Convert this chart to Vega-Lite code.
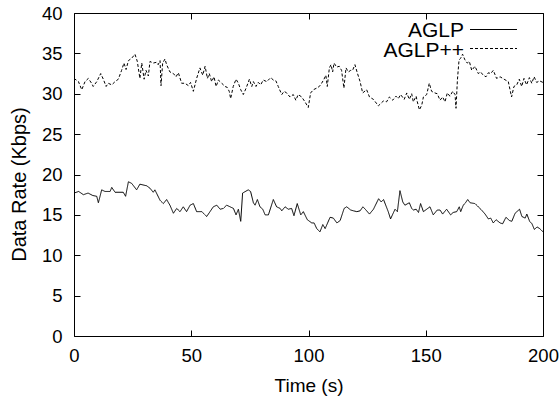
{
"$schema": "https://vega.github.io/schema/vega-lite/v6.json",
"width": 469, "height": 323,
"autosize": {"type": "none"},
"padding": {"left": 74, "top": 13, "right": 16, "bottom": 61},
"background": "white",
"config": {
  "font": "Liberation Sans",
  "view": {"stroke": "black", "strokeWidth": 1},
  "axis": {"domain": false, "grid": false, "ticks": true, "tickColor": "black", "tickSize": 6, "tickWidth": 1, "zindex": 1, "offset": -6,
           "labelFlush": false, "labelOverlap": false,
           "labelColor": "black", "labelFont": "Liberation Sans", "labelFontSize": 18.5,
           "titleColor": "black", "titleFont": "Liberation Sans", "titleFontSize": 19, "titleFontWeight": "normal"}
},
"data": {"values": [
{"t":0,"v":17.7,"s":"AGLP"},{"t":2,"v":17.9,"s":"AGLP"},{"t":4,"v":17.5,"s":"AGLP"},{"t":6,"v":17.7,"s":"AGLP"},{"t":8,"v":17.4,"s":"AGLP"},{"t":9.7,"v":17.3,"s":"AGLP"},{"t":10.4,"v":16.5,"s":"AGLP"},{"t":11.8,"v":18.1,"s":"AGLP"},{"t":13.2,"v":17.9,"s":"AGLP"},{"t":15.4,"v":17.9,"s":"AGLP"},{"t":16.1,"v":18.4,"s":"AGLP"},{"t":17.5,"v":17.8,"s":"AGLP"},{"t":21,"v":17.8,"s":"AGLP"},{"t":22,"v":17.3,"s":"AGLP"},{"t":23.2,"v":19.1,"s":"AGLP"},{"t":24.6,"v":18.9,"s":"AGLP"},{"t":26.7,"v":18.1,"s":"AGLP"},{"t":28.1,"v":18.8,"s":"AGLP"},{"t":31,"v":18.6,"s":"AGLP"},{"t":32.4,"v":18.3,"s":"AGLP"},{"t":33.8,"v":17.8,"s":"AGLP"},{"t":34.5,"v":18.1,"s":"AGLP"},{"t":36.7,"v":16.8,"s":"AGLP"},{"t":38.1,"v":16.4,"s":"AGLP"},{"t":39.5,"v":16.9,"s":"AGLP"},{"t":40.9,"v":16.2,"s":"AGLP"},{"t":42.4,"v":15.2,"s":"AGLP"},{"t":43.8,"v":15.8,"s":"AGLP"},{"t":45.2,"v":15.4,"s":"AGLP"},{"t":46.6,"v":16.0,"s":"AGLP"},{"t":48,"v":15.4,"s":"AGLP"},{"t":49.5,"v":16.2,"s":"AGLP"},{"t":50.9,"v":16.4,"s":"AGLP"},{"t":52.3,"v":15.4,"s":"AGLP"},{"t":54.5,"v":15.4,"s":"AGLP"},{"t":56.6,"v":14.8,"s":"AGLP"},{"t":59.4,"v":16.0,"s":"AGLP"},{"t":60.9,"v":16.2,"s":"AGLP"},{"t":62.3,"v":15.7,"s":"AGLP"},{"t":63.7,"v":15.8,"s":"AGLP"},{"t":65.1,"v":16.2,"s":"AGLP"},{"t":68,"v":15.8,"s":"AGLP"},{"t":69.1,"v":15.0,"s":"AGLP"},{"t":70.1,"v":15.7,"s":"AGLP"},{"t":71.1,"v":14.2,"s":"AGLP"},{"t":71.9,"v":17.7,"s":"AGLP"},{"t":74.3,"v":18.1,"s":"AGLP"},{"t":75.3,"v":17.9,"s":"AGLP"},{"t":76.5,"v":16.5,"s":"AGLP"},{"t":77.2,"v":16.2,"s":"AGLP"},{"t":78.2,"v":16.9,"s":"AGLP"},{"t":79.3,"v":16.0,"s":"AGLP"},{"t":80.5,"v":15.7,"s":"AGLP"},{"t":81.5,"v":15.0,"s":"AGLP"},{"t":82.9,"v":15.0,"s":"AGLP"},{"t":85,"v":16.9,"s":"AGLP"},{"t":86.4,"v":16.0,"s":"AGLP"},{"t":87.9,"v":15.8,"s":"AGLP"},{"t":88.6,"v":15.5,"s":"AGLP"},{"t":90,"v":16.0,"s":"AGLP"},{"t":91.4,"v":15.7,"s":"AGLP"},{"t":92.8,"v":15.8,"s":"AGLP"},{"t":93.8,"v":14.9,"s":"AGLP"},{"t":95.2,"v":16.4,"s":"AGLP"},{"t":96.7,"v":15.0,"s":"AGLP"},{"t":97.8,"v":15.4,"s":"AGLP"},{"t":99.5,"v":14.4,"s":"AGLP"},{"t":101.4,"v":14.0,"s":"AGLP"},{"t":102.4,"v":14.0,"s":"AGLP"},{"t":103.5,"v":13.3,"s":"AGLP"},{"t":104.9,"v":12.9,"s":"AGLP"},{"t":106.1,"v":13.8,"s":"AGLP"},{"t":107.1,"v":13.3,"s":"AGLP"},{"t":109.2,"v":14.7,"s":"AGLP"},{"t":110.6,"v":14.6,"s":"AGLP"},{"t":112.1,"v":14.0,"s":"AGLP"},{"t":113.5,"v":14.3,"s":"AGLP"},{"t":115.2,"v":15.8,"s":"AGLP"},{"t":116.3,"v":16.0,"s":"AGLP"},{"t":118,"v":15.6,"s":"AGLP"},{"t":119.2,"v":15.5,"s":"AGLP"},{"t":120.6,"v":15.4,"s":"AGLP"},{"t":122,"v":15.5,"s":"AGLP"},{"t":123.2,"v":16.0,"s":"AGLP"},{"t":124.2,"v":15.7,"s":"AGLP"},{"t":126,"v":15.1,"s":"AGLP"},{"t":127.7,"v":15.7,"s":"AGLP"},{"t":129.9,"v":17.0,"s":"AGLP"},{"t":131,"v":16.6,"s":"AGLP"},{"t":132,"v":16.9,"s":"AGLP"},{"t":133.2,"v":16.0,"s":"AGLP"},{"t":134,"v":15.4,"s":"AGLP"},{"t":135,"v":14.5,"s":"AGLP"},{"t":136.9,"v":15.7,"s":"AGLP"},{"t":137.9,"v":15.4,"s":"AGLP"},{"t":139,"v":18.0,"s":"AGLP"},{"t":140.2,"v":16.6,"s":"AGLP"},{"t":141.1,"v":16.2,"s":"AGLP"},{"t":143,"v":16.5,"s":"AGLP"},{"t":144,"v":15.8,"s":"AGLP"},{"t":144.7,"v":15.6,"s":"AGLP"},{"t":145.9,"v":15.7,"s":"AGLP"},{"t":146.9,"v":15.3,"s":"AGLP"},{"t":147.8,"v":16.4,"s":"AGLP"},{"t":149,"v":15.4,"s":"AGLP"},{"t":150.4,"v":15.7,"s":"AGLP"},{"t":151.8,"v":16.0,"s":"AGLP"},{"t":153.2,"v":15.0,"s":"AGLP"},{"t":154.9,"v":15.6,"s":"AGLP"},{"t":156.1,"v":15.6,"s":"AGLP"},{"t":157.2,"v":15.1,"s":"AGLP"},{"t":158.9,"v":15.7,"s":"AGLP"},{"t":160.6,"v":15.0,"s":"AGLP"},{"t":161.7,"v":15.3,"s":"AGLP"},{"t":163.2,"v":15.4,"s":"AGLP"},{"t":164.3,"v":16.0,"s":"AGLP"},{"t":164.9,"v":15.4,"s":"AGLP"},{"t":166,"v":16.2,"s":"AGLP"},{"t":166.7,"v":16.4,"s":"AGLP"},{"t":167.9,"v":16.9,"s":"AGLP"},{"t":168.9,"v":16.5,"s":"AGLP"},{"t":171,"v":16.4,"s":"AGLP"},{"t":172.4,"v":16.0,"s":"AGLP"},{"t":173.8,"v":15.6,"s":"AGLP"},{"t":175.3,"v":15.1,"s":"AGLP"},{"t":176.7,"v":14.5,"s":"AGLP"},{"t":177.7,"v":14.6,"s":"AGLP"},{"t":178.8,"v":14.0,"s":"AGLP"},{"t":180,"v":14.4,"s":"AGLP"},{"t":181.7,"v":14.0,"s":"AGLP"},{"t":182.8,"v":13.9,"s":"AGLP"},{"t":184.2,"v":14.7,"s":"AGLP"},{"t":185.7,"v":14.3,"s":"AGLP"},{"t":186.7,"v":14.2,"s":"AGLP"},{"t":188.1,"v":15.2,"s":"AGLP"},{"t":190,"v":15.7,"s":"AGLP"},{"t":191,"v":14.8,"s":"AGLP"},{"t":192.4,"v":14.6,"s":"AGLP"},{"t":193.1,"v":15.1,"s":"AGLP"},{"t":194.3,"v":14.2,"s":"AGLP"},{"t":195.3,"v":13.9,"s":"AGLP"},{"t":196.3,"v":13.2,"s":"AGLP"},{"t":197.5,"v":13.5,"s":"AGLP"},{"t":198.6,"v":13.3,"s":"AGLP"},{"t":200,"v":12.9,"s":"AGLP"},
{"t":0,"v":31.9,"s":"AGLP++"},{"t":1.9,"v":31.5,"s":"AGLP++"},{"t":3.3,"v":30.5,"s":"AGLP++"},{"t":4.7,"v":31.5,"s":"AGLP++"},{"t":6.1,"v":31.9,"s":"AGLP++"},{"t":7.5,"v":31.3,"s":"AGLP++"},{"t":8.2,"v":30.9,"s":"AGLP++"},{"t":9.7,"v":31.5,"s":"AGLP++"},{"t":11.4,"v":32.5,"s":"AGLP++"},{"t":12.5,"v":31.8,"s":"AGLP++"},{"t":13.7,"v":30.9,"s":"AGLP++"},{"t":14.6,"v":31.3,"s":"AGLP++"},{"t":16.1,"v":31.1,"s":"AGLP++"},{"t":17.5,"v":31.5,"s":"AGLP++"},{"t":18.9,"v":31.8,"s":"AGLP++"},{"t":20.3,"v":32.9,"s":"AGLP++"},{"t":21.3,"v":33.8,"s":"AGLP++"},{"t":22.2,"v":33.0,"s":"AGLP++"},{"t":23.2,"v":34.1,"s":"AGLP++"},{"t":24.6,"v":34.4,"s":"AGLP++"},{"t":26,"v":34.9,"s":"AGLP++"},{"t":27,"v":34.0,"s":"AGLP++"},{"t":28.1,"v":31.9,"s":"AGLP++"},{"t":28.9,"v":33.8,"s":"AGLP++"},{"t":29.9,"v":31.8,"s":"AGLP++"},{"t":30.7,"v":32.9,"s":"AGLP++"},{"t":31.7,"v":32.2,"s":"AGLP++"},{"t":32.4,"v":34.0,"s":"AGLP++"},{"t":33.8,"v":33.8,"s":"AGLP++"},{"t":35.2,"v":33.9,"s":"AGLP++"},{"t":35.9,"v":33.6,"s":"AGLP++"},{"t":36.7,"v":34.1,"s":"AGLP++"},{"t":37.1,"v":31.0,"s":"AGLP++"},{"t":37.8,"v":33.8,"s":"AGLP++"},{"t":38.8,"v":34.3,"s":"AGLP++"},{"t":39.5,"v":33.6,"s":"AGLP++"},{"t":40.9,"v":32.7,"s":"AGLP++"},{"t":42.4,"v":32.5,"s":"AGLP++"},{"t":43.5,"v":32.1,"s":"AGLP++"},{"t":44.5,"v":32.6,"s":"AGLP++"},{"t":45.9,"v":31.3,"s":"AGLP++"},{"t":47.3,"v":31.3,"s":"AGLP++"},{"t":48.8,"v":31.0,"s":"AGLP++"},{"t":49.7,"v":31.4,"s":"AGLP++"},{"t":50.9,"v":30.3,"s":"AGLP++"},{"t":52.3,"v":31.9,"s":"AGLP++"},{"t":53.7,"v":33.2,"s":"AGLP++"},{"t":54.9,"v":32.3,"s":"AGLP++"},{"t":55.9,"v":33.4,"s":"AGLP++"},{"t":56.9,"v":31.9,"s":"AGLP++"},{"t":57.7,"v":32.5,"s":"AGLP++"},{"t":58.7,"v":31.5,"s":"AGLP++"},{"t":59.7,"v":32.1,"s":"AGLP++"},{"t":60.6,"v":30.9,"s":"AGLP++"},{"t":61.6,"v":31.7,"s":"AGLP++"},{"t":63,"v":31.3,"s":"AGLP++"},{"t":64.4,"v":30.9,"s":"AGLP++"},{"t":65.3,"v":30.8,"s":"AGLP++"},{"t":66.2,"v":30.3,"s":"AGLP++"},{"t":66.8,"v":29.4,"s":"AGLP++"},{"t":67.9,"v":30.9,"s":"AGLP++"},{"t":69.1,"v":31.8,"s":"AGLP++"},{"t":70.1,"v":31.3,"s":"AGLP++"},{"t":71.1,"v":30.5,"s":"AGLP++"},{"t":72.2,"v":29.9,"s":"AGLP++"},{"t":73.4,"v":30.7,"s":"AGLP++"},{"t":74.8,"v":31.8,"s":"AGLP++"},{"t":75.8,"v":30.9,"s":"AGLP++"},{"t":76.5,"v":31.5,"s":"AGLP++"},{"t":77.6,"v":30.9,"s":"AGLP++"},{"t":78.6,"v":31.4,"s":"AGLP++"},{"t":79.6,"v":31.1,"s":"AGLP++"},{"t":80.7,"v":31.7,"s":"AGLP++"},{"t":82.2,"v":31.5,"s":"AGLP++"},{"t":83.9,"v":32.0,"s":"AGLP++"},{"t":85,"v":31.7,"s":"AGLP++"},{"t":86.1,"v":31.6,"s":"AGLP++"},{"t":87.1,"v":30.9,"s":"AGLP++"},{"t":88.6,"v":29.9,"s":"AGLP++"},{"t":89.6,"v":30.3,"s":"AGLP++"},{"t":90.7,"v":30.1,"s":"AGLP++"},{"t":92.1,"v":29.6,"s":"AGLP++"},{"t":93.5,"v":29.9,"s":"AGLP++"},{"t":94.6,"v":29.2,"s":"AGLP++"},{"t":95.6,"v":29.9,"s":"AGLP++"},{"t":97.1,"v":29.6,"s":"AGLP++"},{"t":98.5,"v":29.0,"s":"AGLP++"},{"t":99.9,"v":28.3,"s":"AGLP++"},{"t":100.9,"v":30.1,"s":"AGLP++"},{"t":102.1,"v":30.5,"s":"AGLP++"},{"t":103.5,"v":30.7,"s":"AGLP++"},{"t":104.6,"v":30.9,"s":"AGLP++"},{"t":105.6,"v":31.3,"s":"AGLP++"},{"t":106.6,"v":31.8,"s":"AGLP++"},{"t":107.4,"v":32.3,"s":"AGLP++"},{"t":108,"v":30.9,"s":"AGLP++"},{"t":108.9,"v":33.2,"s":"AGLP++"},{"t":109.6,"v":33.6,"s":"AGLP++"},{"t":110.3,"v":32.7,"s":"AGLP++"},{"t":110.9,"v":33.8,"s":"AGLP++"},{"t":112,"v":33.3,"s":"AGLP++"},{"t":113.1,"v":33.4,"s":"AGLP++"},{"t":114.1,"v":32.9,"s":"AGLP++"},{"t":115.1,"v":30.7,"s":"AGLP++"},{"t":116,"v":33.2,"s":"AGLP++"},{"t":117,"v":32.7,"s":"AGLP++"},{"t":118,"v":32.9,"s":"AGLP++"},{"t":118.8,"v":32.9,"s":"AGLP++"},{"t":119.8,"v":33.6,"s":"AGLP++"},{"t":120.8,"v":32.6,"s":"AGLP++"},{"t":122,"v":31.5,"s":"AGLP++"},{"t":123.1,"v":30.1,"s":"AGLP++"},{"t":124.8,"v":30.5,"s":"AGLP++"},{"t":126,"v":29.6,"s":"AGLP++"},{"t":127.7,"v":29.3,"s":"AGLP++"},{"t":129.8,"v":28.5,"s":"AGLP++"},{"t":131.9,"v":29.1,"s":"AGLP++"},{"t":133.3,"v":29.0,"s":"AGLP++"},{"t":134.5,"v":29.6,"s":"AGLP++"},{"t":135.9,"v":29.2,"s":"AGLP++"},{"t":137.3,"v":29.7,"s":"AGLP++"},{"t":138.3,"v":29.4,"s":"AGLP++"},{"t":139.3,"v":29.9,"s":"AGLP++"},{"t":140.8,"v":29.3,"s":"AGLP++"},{"t":141.9,"v":30.1,"s":"AGLP++"},{"t":143,"v":29.3,"s":"AGLP++"},{"t":144,"v":30.0,"s":"AGLP++"},{"t":144.7,"v":29.0,"s":"AGLP++"},{"t":145.9,"v":29.7,"s":"AGLP++"},{"t":146.4,"v":29.0,"s":"AGLP++"},{"t":147.3,"v":28.0,"s":"AGLP++"},{"t":148.3,"v":28.6,"s":"AGLP++"},{"t":149,"v":29.6,"s":"AGLP++"},{"t":150.4,"v":29.9,"s":"AGLP++"},{"t":151.5,"v":31.3,"s":"AGLP++"},{"t":152.5,"v":30.3,"s":"AGLP++"},{"t":153.9,"v":30.1,"s":"AGLP++"},{"t":154.9,"v":30.0,"s":"AGLP++"},{"t":156.1,"v":29.2,"s":"AGLP++"},{"t":157.2,"v":29.6,"s":"AGLP++"},{"t":158.2,"v":29.0,"s":"AGLP++"},{"t":159.2,"v":30.1,"s":"AGLP++"},{"t":160.3,"v":29.7,"s":"AGLP++"},{"t":161.5,"v":30.3,"s":"AGLP++"},{"t":162.5,"v":29.9,"s":"AGLP++"},{"t":162.9,"v":28.2,"s":"AGLP++"},{"t":163.5,"v":31.7,"s":"AGLP++"},{"t":164.2,"v":34.2,"s":"AGLP++"},{"t":164.9,"v":34.4,"s":"AGLP++"},{"t":165.7,"v":34.9,"s":"AGLP++"},{"t":166.7,"v":34.2,"s":"AGLP++"},{"t":167.7,"v":33.8,"s":"AGLP++"},{"t":168.6,"v":34.0,"s":"AGLP++"},{"t":169.6,"v":32.9,"s":"AGLP++"},{"t":171,"v":33.4,"s":"AGLP++"},{"t":172.4,"v":32.5,"s":"AGLP++"},{"t":173.4,"v":32.7,"s":"AGLP++"},{"t":174.5,"v":32.3,"s":"AGLP++"},{"t":175.7,"v":32.1,"s":"AGLP++"},{"t":176.7,"v":32.6,"s":"AGLP++"},{"t":177.7,"v":32.5,"s":"AGLP++"},{"t":178.8,"v":32.9,"s":"AGLP++"},{"t":180.2,"v":31.9,"s":"AGLP++"},{"t":181.7,"v":32.1,"s":"AGLP++"},{"t":183.4,"v":31.8,"s":"AGLP++"},{"t":185.2,"v":31.5,"s":"AGLP++"},{"t":186.6,"v":29.6,"s":"AGLP++"},{"t":187.6,"v":30.9,"s":"AGLP++"},{"t":188.8,"v":31.1,"s":"AGLP++"},{"t":189.9,"v":31.8,"s":"AGLP++"},{"t":190.9,"v":30.9,"s":"AGLP++"},{"t":191.9,"v":31.9,"s":"AGLP++"},{"t":193,"v":31.1,"s":"AGLP++"},{"t":194.2,"v":32.0,"s":"AGLP++"},{"t":195.2,"v":31.3,"s":"AGLP++"},{"t":196.2,"v":32.1,"s":"AGLP++"},{"t":197.3,"v":31.4,"s":"AGLP++"},{"t":198.5,"v":31.6,"s":"AGLP++"},{"t":200,"v":31.4,"s":"AGLP++"}
]},
"layer": [
  {
    "mark": {"type": "line", "color": "black", "strokeWidth": 1, "clip": true},
    "encoding": {
      "x": {"field": "t", "type": "quantitative", "scale": {"domain": [0, 200], "nice": false},
            "axis": {"orient": "bottom", "values": [0, 50, 100, 150, 200], "title": "Time (s)",
                     "labelPadding": 10, "labelBaseline": "top", "titleY": 61, "titleBaseline": "alphabetic", "titleX": 234.5}},
      "y": {"field": "v", "type": "quantitative", "scale": {"domain": [0, 40], "nice": false},
            "axis": {"orient": "left", "values": [0, 5, 10, 15, 20, 25, 30, 35, 40], "title": "Data Rate (Kbps)",
                     "titleFontSize": 20, "labelPadding": 12, "titleX": -61, "titleY": 171, "titleBaseline": "middle", "titleAngle": -90, "titleAlign": "center"}},
      "strokeDash": {"field": "s", "type": "nominal",
        "scale": {"domain": ["AGLP", "AGLP++"], "range": [[1, 0], [3, 2]]},
        "legend": {"orient": "none", "legendX": 407, "legendY": 4, "title": null, "padding": 0,
                   "symbolType": "M-2,0L2,0", "symbolSize": 552, "symbolStrokeWidth": 1, "symbolStrokeColor": "black",
                   "symbolFillColor": "transparent",
                   "labelExpr": "''", "labelFontSize": 12, "rowPadding": 0}}
    }
  },
  {
    "mark": {"type": "point", "opacity": 0},
    "encoding": {
      "x": {"field": "t", "type": "quantitative", "scale": {"domain": [0, 200], "nice": false},
            "axis": {"orient": "top", "values": [0, 50, 100, 150, 200], "labels": false, "title": null}},
      "y": {"field": "v", "type": "quantitative", "scale": {"domain": [0, 40], "nice": false},
            "axis": {"orient": "right", "values": [0, 5, 10, 15, 20, 25, 30, 35, 40], "labels": false, "title": null}},
      "color": {"field": "s", "type": "nominal", "scale": {"range": ["black", "black"]},
        "legend": {"orient": "none", "legendX": 309, "legendY": 9, "title": null, "padding": 0,
                   "symbolSize": 0, "symbolOpacity": 0, "symbolStrokeWidth": 0,
                   "labelAlign": "right", "labelOffset": 60, "labelFontSize": 21,
                   "labelFont": "Liberation Sans", "labelColor": "black", "clipHeight": 18, "rowPadding": -1.5}}
    }
  }
],
"resolve": {"axis": {"x": "independent", "y": "independent"}}
}
